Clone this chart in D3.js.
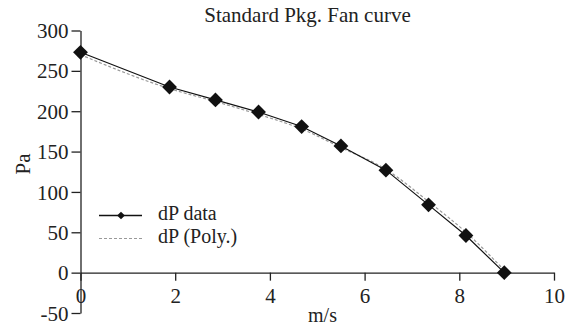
<!DOCTYPE html>
<html>
<head>
<meta charset="utf-8">
<script src="https://cdn.jsdelivr.net/npm/d3@7"></script>
<style>
  body { margin: 0; background: #fff; }
</style>
</head>
<body>
<div id="chart"></div>
<script>
// datos
const speed = [0, 1.88, 2.85, 3.76, 4.67, 5.5, 6.45, 7.35, 8.14, 8.95];
const dpData = [273, 230, 214, 199, 181, 157, 127, 84, 46, 0];
const dpPoly = [270, 228, 212, 196, 178, 155, 128, 88, 50, 3];
const xTicks = [0, 2, 4, 6, 8, 10];
const yTicks = [-50, 0, 50, 100, 150, 200, 250, 300];

const width = 569, height = 330;
const serif = '"Liberation Serif", "Times New Roman", serif';
const ink = '#222';
const fs = '21px';

const svg = d3.select('#chart').append('svg')
  .attr('width', width)
  .attr('height', height)
  .style('font-family', serif);

const x = d3.scaleLinear().domain([0, 10]).range([80.5, 554]);
const y = d3.scaleLinear().domain([-50, 300]).range([313, 30.5]);

// EJES
const yAxis = svg.append('g')
  .attr('transform', `translate(${x(0)},0)`)
  .call(d3.axisLeft(y).tickValues(yTicks).tickSize(9).tickSizeOuter(0)
    .tickFormat(d => String(d)));
yAxis.attr('font-family', null).attr('font-size', null);
yAxis.select('.domain').attr('stroke', ink).attr('stroke-width', 1.3);
yAxis.selectAll('.tick line').attr('stroke', ink).attr('stroke-width', 1.3);
yAxis.selectAll('.tick text')
  .attr('x', -12)
  .attr('dy', '0.34em')
  .style('font-family', serif)
  .style('font-size', fs)
  .attr('fill', ink);

const xAxis = svg.append('g')
  .attr('transform', `translate(0,${y(0)})`)
  .call(d3.axisBottom(x).tickValues(xTicks).tickSize(8).tickSizeOuter(0)
    .tickFormat(d => String(d)));
xAxis.attr('font-family', null).attr('font-size', null);
xAxis.select('.domain').attr('stroke', ink).attr('stroke-width', 1.3);
xAxis.selectAll('.tick line').attr('stroke', ink).attr('stroke-width', 1.3);
xAxis.selectAll('.tick text')
  .attr('y', 30.5)
  .attr('dy', null)
  .style('font-family', serif)
  .style('font-size', fs)
  .attr('fill', ink);

// titulos
svg.append('text')
  .attr('x', 307.5).attr('y', 21.5)
  .attr('text-anchor', 'middle')
  .style('font-family', serif)
  .style('font-size', fs)
  .attr('fill', ink)
  .text('Standard Pkg. Fan curve');

svg.append('text')
  .attr('transform', `translate(30,164) rotate(-90)`)
  .attr('text-anchor', 'middle')
  .style('font-family', serif)
  .style('font-size', fs)
  .attr('fill', ink)
  .text('Pa');

svg.append('text')
  .attr('x', 322.5).attr('y', 322)
  .attr('text-anchor', 'middle')
  .style('font-family', serif)
  .style('font-size', '20px')
  .attr('fill', ink)
  .text('m/s');

// CURVAS
const polyLine = d3.line()
  .x((d, i) => x(speed[i]))
  .y(d => y(d))
  .curve(d3.curveMonotoneX);

svg.append('path')
  .datum(dpPoly)
  .attr('d', polyLine)
  .attr('fill', 'none')
  .attr('stroke', '#999')
  .attr('stroke-width', 1.2)
  .attr('stroke-dasharray', '3,2');

const dataLine = d3.line()
  .x((d, i) => x(speed[i]))
  .y(d => y(d));

svg.append('path')
  .datum(dpData)
  .attr('d', dataLine)
  .attr('fill', 'none')
  .attr('stroke', '#111')
  .attr('stroke-width', 1.2);

const diamond = d3.symbol().type(d3.symbolSquare).size(110);

svg.selectAll('.pt')
  .data(dpData)
  .enter()
  .append('path')
  .attr('class', 'pt')
  .attr('d', diamond)
  .attr('transform', (d, i) => `translate(${x(speed[i])},${y(d)}) rotate(45)`)
  .attr('fill', '#111');

// LEYENDA
const legend = svg.append('g').attr('transform', 'translate(99,215.5)');
legend.append('line')
  .attr('x1', 0).attr('x2', 43).attr('y1', 0).attr('y2', 0)
  .attr('stroke', '#111').attr('stroke-width', 1.3);
legend.append('path')
  .attr('d', d3.symbol().type(d3.symbolSquare).size(30))
  .attr('transform', 'translate(22,0) rotate(45)')
  .attr('fill', '#111');
legend.append('text')
  .attr('x', 59).attr('y', 4.5)
  .style('font-family', serif)
  .style('font-size', '20px')
  .attr('fill', ink)
  .text('dP data');

legend.append('line')
  .attr('x1', 0).attr('x2', 43).attr('y1', 23).attr('y2', 23)
  .attr('stroke', '#999').attr('stroke-width', 1.2)
  .attr('stroke-dasharray', '3,2');
legend.append('text')
  .attr('x', 59).attr('y', 27.5)
  .style('font-family', serif)
  .style('font-size', '20px')
  .attr('fill', ink)
  .text('dP (Poly.)');
</script>
</body>
</html>
